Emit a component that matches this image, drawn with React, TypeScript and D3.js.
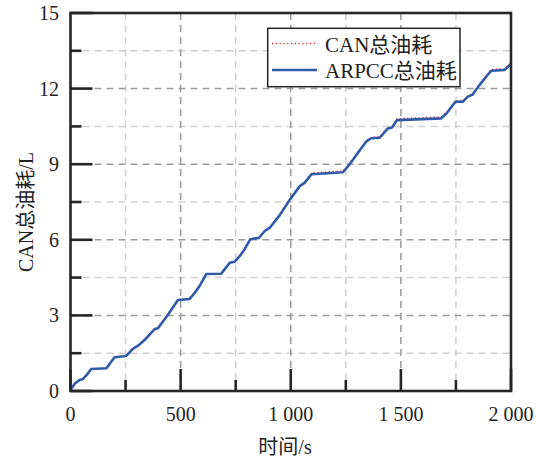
import React from "react";
import * as d3 from "d3";

const times = [0, 20, 42, 57, 75, 94, 163, 180, 200, 253, 283, 310, 336, 360, 382, 397, 440, 488, 540, 563, 590, 616, 684, 723, 746, 769, 790, 816, 856, 882, 905, 950, 995, 1041, 1064, 1094, 1237, 1260, 1283, 1320, 1345, 1366, 1404, 1441, 1460, 1482, 1683, 1706, 1748, 1782, 1804, 1824, 1857, 1885, 1910, 1970, 1990, 2000];
const arpcc = [0.05, 0.3, 0.44, 0.48, 0.65, 0.87, 0.9, 1.1, 1.34, 1.39, 1.67, 1.82, 2.02, 2.25, 2.46, 2.49, 3.0, 3.61, 3.65, 3.88, 4.22, 4.64, 4.65, 5.09, 5.13, 5.36, 5.62, 6.02, 6.08, 6.35, 6.48, 6.98, 7.58, 8.13, 8.27, 8.6, 8.68, 8.92, 9.19, 9.63, 9.92, 10.03, 10.05, 10.42, 10.46, 10.75, 10.82, 11.0, 11.48, 11.48, 11.68, 11.75, 12.14, 12.45, 12.71, 12.74, 12.9, 12.97];
const can = [0.05, 0.3, 0.44, 0.48, 0.65, 0.87, 0.9, 1.1, 1.34, 1.39, 1.67, 1.82, 2.02, 2.25, 2.46, 2.49, 3.0, 3.61, 3.66, 3.88, 4.22, 4.65, 4.66, 5.1, 5.14, 5.37, 5.63, 6.03, 6.1, 6.36, 6.5, 6.99, 7.59, 8.14, 8.3, 8.65, 8.74, 8.95, 9.21, 9.65, 9.95, 10.06, 10.09, 10.45, 10.5, 10.8, 10.88, 11.04, 11.52, 11.53, 11.71, 11.79, 12.17, 12.48, 12.76, 12.79, 12.94, 13.0];

const xMajor = [0, 500, 1000, 1500, 2000];
const xMajorLabels = ["0", "500", "1 000", "1 500", "2 000"];
const xMinor = [250, 750, 1250, 1750];
const yMajor = [0, 3, 6, 9, 12, 15];
const yMinor = [1.5, 4.5, 7.5, 10.5, 13.5];
const seriesNames = ["CAN总油耗", "ARPCC总油耗"];
const xTitle = "时间/s";
const yTitle = "CAN总油耗/L";

const W = 536, H = 461;
const L = 70.5, R = 511, T = 13, B = 391;
const FONT = "'Liberation Serif', 'Times New Roman', 'Noto Sans CJK SC', serif";
const AX = "#262626";
const BLUE = "#2f5aa8";

export default function App() {
  const x = d3.scaleLinear().domain([0, 2000]).range([L, R]);
  const y = d3.scaleLinear().domain([0, 15]).range([B, T]);
  const pts = (vals: number[]) => times.map((t, i) => [t, vals[i]] as [number, number]);
  const line = d3.line<[number, number]>().x(d => x(d[0])).y(d => y(d[1]));

  return (
    <div style={{ position: "absolute", left: 0, top: 0 }}>
      <svg width={W} height={H} style={{ display: "block", background: "#fff" }} fontFamily={FONT}>
        {xMinor.map(v => (
          <line key={"xm" + v} x1={x(v)} x2={x(v)} y1={T} y2={B} stroke="#cfcfcf" strokeWidth={1.5} strokeDasharray="7,5" />
        ))}
        {yMinor.map(v => (
          <line key={"ym" + v} x1={L} x2={R} y1={y(v)} y2={y(v)} stroke="#cfcfcf" strokeWidth={1.5} strokeDasharray="7,5" />
        ))}
        {xMajor.slice(1, -1).map(v => (
          <line key={"xM" + v} x1={x(v)} x2={x(v)} y1={T} y2={B} stroke="#9a9a9a" strokeWidth={1.5} strokeDasharray="7,5" />
        ))}
        {yMajor.slice(1, -1).map(v => (
          <line key={"yM" + v} x1={L} x2={R} y1={y(v)} y2={y(v)} stroke="#9a9a9a" strokeWidth={1.5} strokeDasharray="7,5" />
        ))}
        <path d={line(pts(can)) || ""} fill="none" stroke="#ff2020" strokeWidth={1.4} strokeDasharray="1.2,2.6" />
        <path d={line(pts(arpcc)) || ""} fill="none" stroke={BLUE} strokeWidth={2.6} strokeLinejoin="round" />
        <rect x={L} y={T} width={R - L} height={B - T} fill="none" stroke={AX} strokeWidth={2.6} />
        {xMajor.map(v => (
          <line key={"xt" + v} x1={x(v)} x2={x(v)} y1={B} y2={B - 22} stroke={AX} strokeWidth={2.6} />
        ))}
        {xMinor.map(v => (
          <line key={"xtm" + v} x1={x(v)} x2={x(v)} y1={B} y2={B - 11} stroke={AX} strokeWidth={2.6} />
        ))}
        {yMajor.map(v => (
          <line key={"yt" + v} x1={L} x2={L + 22} y1={y(v)} y2={y(v)} stroke={AX} strokeWidth={2.6} />
        ))}
        {yMinor.map(v => (
          <line key={"ytm" + v} x1={L} x2={L + 11} y1={y(v)} y2={y(v)} stroke={AX} strokeWidth={2.6} />
        ))}
        {xMajor.map((v, i) => (
          <text key={"xl" + v} x={x(v)} y={421} textAnchor="middle" fontSize={20} fill="#222">{xMajorLabels[i]}</text>
        ))}
        {yMajor.map(v => (
          <text key={"yl" + v} x={59} y={y(v) + 7} textAnchor="end" fontSize={20} fill="#222">{String(v)}</text>
        ))}
        <text x={285} y={454} textAnchor="middle" fontSize={20} fill="#222">{xTitle}</text>
        <text transform={`translate(33,212) rotate(-90)`} textAnchor="middle" fontSize={20} fill="#222">{yTitle}</text>
        <rect x={267.7} y={28.3} width={192.3} height={58.4} fill="#fff" stroke={AX} strokeWidth={1.5} />
        <line x1={272} x2={317} y1={43.5} y2={43.5} stroke="#ff2020" strokeWidth={1.4} strokeDasharray="1.2,2.6" />
        <line x1={272} x2={317} y1={70} y2={70} stroke={BLUE} strokeWidth={2.6} />
        <text x={325} y={51.5} fontSize={21} fill="#222">{seriesNames[0]}</text>
        <text x={325} y={78.3} fontSize={21} fill="#222">{seriesNames[1]}</text>
      </svg>
    </div>
  );
}
